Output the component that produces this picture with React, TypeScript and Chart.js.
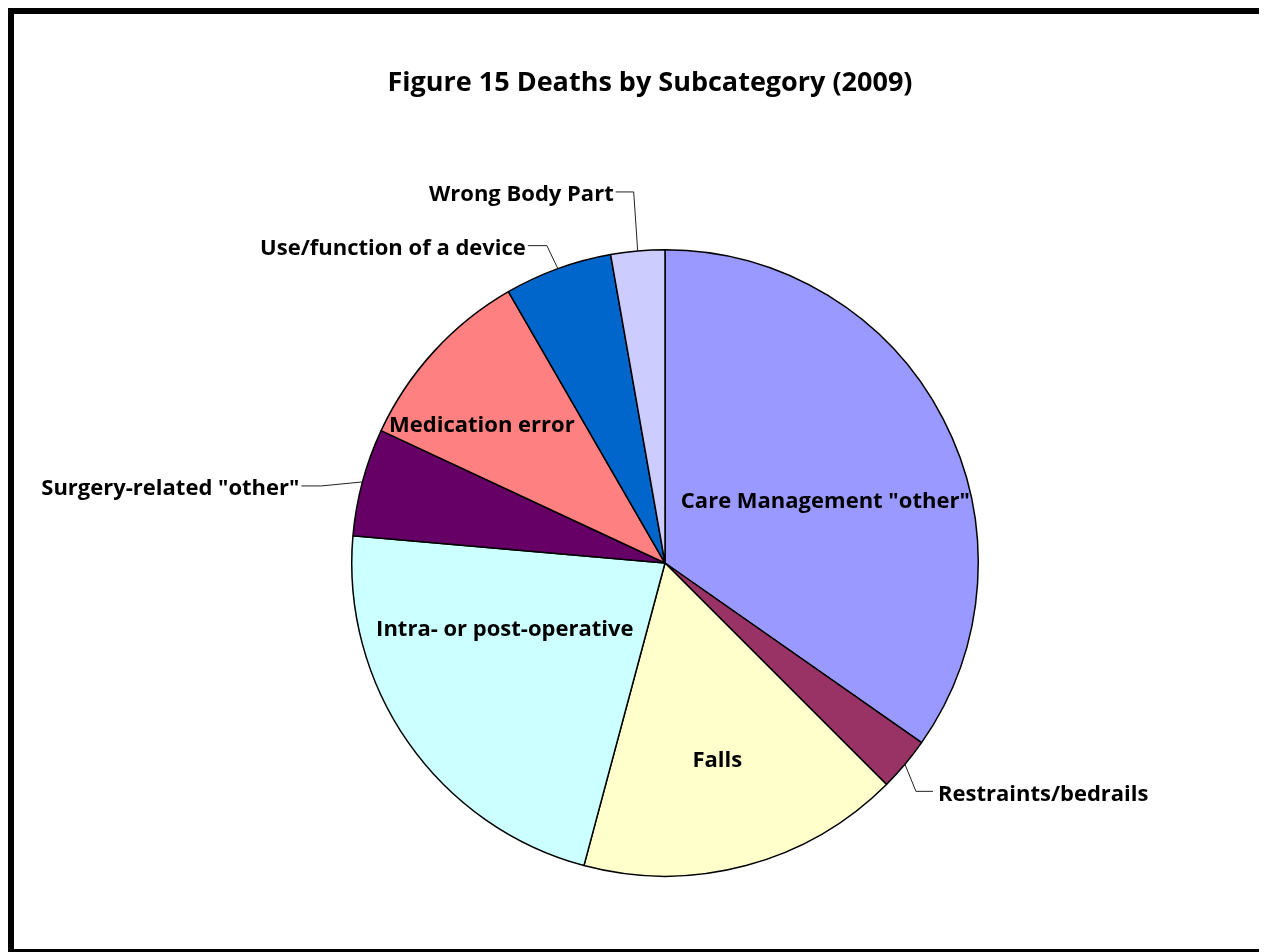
import React, { useEffect, useRef } from "react";
import { Chart, registerables } from "chart.js";

Chart.register(...registerables);

const categories = [
  'Care Management "other"',
  "Restraints/bedrails",
  "Falls",
  "Intra- or post-operative",
  'Surgery-related "other"',
  "Medication error",
  "Use/function of a device",
  "Wrong Body Part",
];
const deaths = [25, 2, 12, 16, 4, 7, 4, 2];
const sliceColors = [
  "#9999FF",
  "#993366",
  "#FFFFCC",
  "#CCFFFF",
  "#660066",
  "#FF8080",
  "#0066CC",
  "#CCCCFF",
];
const chartTitle = "Figure 15 Deaths by Subcategory (2009)";

const FONT = "'Open Sans'";
const LABEL_SIZE = 22;
const TITLE_SIZE = 27;

type LabelCfg =
  | { kind: "in"; frac: number; shift: number }
  | { kind: "out"; dx: number; dy: number; h: number };

const labelLayout: LabelCfg[] = [
  { kind: "in", frac: 0.55, shift: 6 },
  { kind: "out", dx: 11, dy: 27, h: 17 },
  { kind: "in", frac: 0.646, shift: 0 },
  { kind: "in", frac: 0.552, shift: 12.9 },
  { kind: "out", dx: -41, dy: 4, h: -20 },
  { kind: "in", frac: 0.734, shift: -5.3 },
  { kind: "out", dx: -11, dy: -23, h: -19 },
  { kind: "out", dx: -4, dy: -59, h: -18 },
];

const labelPlugin = {
  id: "sliceLabels",
  afterDatasetsDraw(chart: any) {
    const ctx = chart.ctx as CanvasRenderingContext2D;
    const meta = chart.getDatasetMeta(0);
    ctx.save();
    ctx.fillStyle = "#000";
    ctx.textBaseline = "middle";
    ctx.font = `bold ${LABEL_SIZE}px ${FONT}`;
    meta.data.forEach((arc: any, i: number) => {
      const { x, y, startAngle, endAngle, outerRadius } = arc.getProps(
        ["x", "y", "startAngle", "endAngle", "outerRadius"],
        true
      );
      const mid = (startAngle + endAngle) / 2;
      const cfg = labelLayout[i];
      const text = chart.data.labels[i] as string;
      if (cfg.kind === "in") {
        const a = mid + (cfg.shift * Math.PI) / 180;
        const r = outerRadius * cfg.frac;
        ctx.textAlign = "center";
        ctx.fillText(text, x + r * Math.cos(a), y + r * Math.sin(a) + 2);
      } else {
        const ax = x + outerRadius * Math.cos(mid);
        const ay = y + outerRadius * Math.sin(mid);
        const ex = ax + cfg.dx;
        const ey = ay + cfg.dy;
        const hx = ex + cfg.h;
        ctx.beginPath();
        ctx.moveTo(ax, ay);
        ctx.lineTo(ex, ey);
        ctx.lineTo(hx, ey);
        ctx.strokeStyle = "#222";
        ctx.lineWidth = 1;
        ctx.stroke();
        ctx.textAlign = cfg.h < 0 ? "right" : "left";
        ctx.fillText(text, hx + (cfg.h < 0 ? -2 : 5), ey + 3);
      }
    });
    ctx.font = `bold ${TITLE_SIZE}px ${FONT}`;
    ctx.textAlign = "center";
    ctx.fillText(chartTitle, 636, 69);
    ctx.restore();
  },
};

export default function App() {
  const canvasRef = useRef<HTMLCanvasElement | null>(null);

  useEffect(() => {
    if (!canvasRef.current) return;
    const chart = new Chart(canvasRef.current, {
      type: "pie",
      data: {
        labels: categories,
        datasets: [
          {
            data: deaths,
            backgroundColor: sliceColors,
            borderColor: "#000",
            borderWidth: 1.5,
            hoverOffset: 0,
          },
        ],
      },
      options: {
        responsive: false,
        animation: false,
        layout: { padding: { top: 235, bottom: 72, left: 54, right: 0 } },
        plugins: {
          legend: { display: false },
          title: { display: false },
          tooltip: { enabled: false },
        },
      },
      plugins: [labelPlugin],
    });
    return () => chart.destroy();
  }, []);

  return (
    <div
      style={{
        width: 1259,
        height: 944,
        boxSizing: "border-box",
        borderStyle: "solid",
        borderColor: "#000",
        borderWidth: "6px 5px 3px 6px",
        background: "#fff",
      }}
    >
      <canvas ref={canvasRef} width={1248} height={935} style={{ display: "block" }} />
    </div>
  );
}
